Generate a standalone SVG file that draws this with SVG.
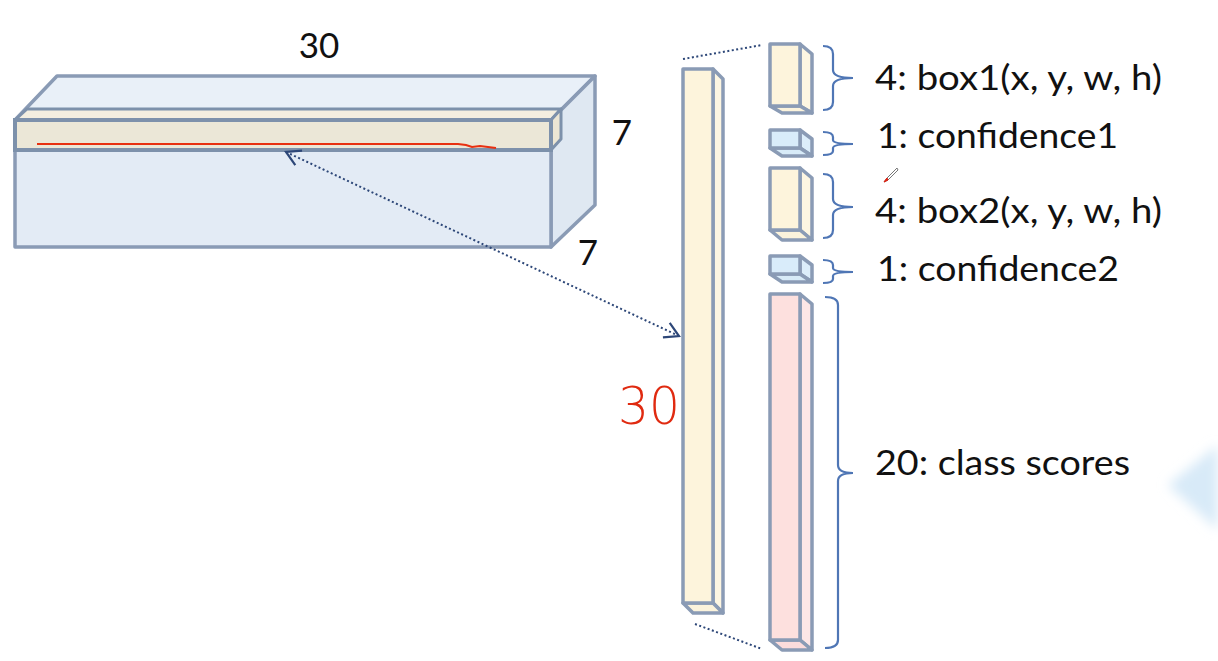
<svg xmlns="http://www.w3.org/2000/svg" width="1218" height="661" viewBox="0 0 1218 661">
<style>
.lbl{font-family:Lato,"Open Sans","Liberation Sans",sans-serif;font-size:35px;fill:#111}
.edge{stroke:#8a9bb5;stroke-width:3.5;stroke-linejoin:round}
.brace{fill:none;stroke:#4f76b5;stroke-width:2.2}
.dot{fill:none;stroke:#2d4778;stroke-width:2;stroke-dasharray:2 2.5}
</style>
<defs>
<marker id="v" viewBox="0 0 20 20" refX="18" refY="10" markerWidth="20" markerHeight="20" markerUnits="userSpaceOnUse" orient="auto-start-reverse">
<path d="M4,2 L18,10 L4,18" fill="none" stroke="#2d4778" stroke-width="2.2"/>
</marker>
<filter id="blur" x="-50%" y="-50%" width="200%" height="200%"><feGaussianBlur stdDeviation="6"/></filter>
</defs>
<rect width="1218" height="661" fill="#ffffff"/>

<g id="cube">
<polygon class="edge" points="15,120 57,76 595,76 551,120" fill="#e9f0f8"/>
<polygon class="edge" points="551,120 595,76 595,205 551,247" fill="#dfe8f2"/>
<rect class="edge" x="15" y="120" width="536" height="127" fill="#e3ebf5"/>
</g>

<g id="slice">
<polygon points="15,120 27,109 561,109 551,120" fill="#f3eee0" stroke="#7d91ab" stroke-width="3" stroke-linejoin="round"/>
<polygon points="551,120 561,109 561,139 551,150" fill="#ece6d4" stroke="#7d91ab" stroke-width="3" stroke-linejoin="round"/>
<rect x="15" y="120" width="536" height="30" fill="#ebe7d7" stroke="#7d91ab" stroke-width="4"/>
<path d="M37,144 L458,144 L466,145 L472,147 L480,146 L496,148" fill="none" stroke="#e83010" stroke-width="2.2"/>
</g>

<g id="dims">
<text x="319" y="58" class="lbl" text-anchor="middle" font-size="33">30</text>
<text x="622" y="145" class="lbl" text-anchor="middle" font-size="33">7</text>
<text x="588" y="265" class="lbl" text-anchor="middle" font-size="33">7</text>
</g>

<g id="column">
<polygon class="edge" points="713,69 723,79 723,613 713,603" fill="#fdf6e2"/>
<polygon class="edge" points="683,603 713,603 723,613 693,613" fill="#fbf3dc"/>
<rect class="edge" x="683" y="69" width="30" height="534" fill="#fdf4dc"/>
<text x="618" y="424" font-family="'DejaVu Sans',sans-serif" font-size="52" font-weight="200" fill="#e02a10" textLength="62" lengthAdjust="spacingAndGlyphs">30</text>
</g>

<g id="box1">
<polygon class="edge" points="800,44 812,54 812,113 800,106" fill="#fdf6e2"/>
<polygon class="edge" points="770,106 800,106 812,113 782,113" fill="#fbf3dc"/>
<rect class="edge" x="770" y="44" width="30" height="62" fill="#fdf4dc"/>
</g>
<g id="conf1">
<polygon class="edge" points="800,130 812,139 812,156 800,148" fill="#dcedfa"/>
<polygon class="edge" points="770,148 800,148 812,156 782,156" fill="#d8ebf8"/>
<rect class="edge" x="770" y="130" width="30" height="18" fill="#d9ecfa"/>
</g>
<g id="box2">
<polygon class="edge" points="800,168 812,178 812,240 800,230" fill="#fdf6e2"/>
<polygon class="edge" points="770,230 800,230 812,240 782,240" fill="#fbf3dc"/>
<rect class="edge" x="770" y="168" width="30" height="62" fill="#fdf4dc"/>
</g>
<g id="conf2">
<polygon class="edge" points="800,256 812,265 812,282 800,274" fill="#dcedfa"/>
<polygon class="edge" points="770,274 800,274 812,282 782,282" fill="#d8ebf8"/>
<rect class="edge" x="770" y="256" width="30" height="18" fill="#d9ecfa"/>
</g>
<g id="classes">
<polygon class="edge" points="800,294 812,304 812,650 800,640" fill="#fde6e6"/>
<polygon class="edge" points="770,640 800,640 812,650 782,650" fill="#fcdcdc"/>
<rect class="edge" x="770" y="294" width="30" height="346" fill="#fde0de"/>
</g>

<g id="connectors">
<line class="dot" x1="683" y1="59" x2="762" y2="45"/>
<line class="dot" x1="695" y1="624" x2="762" y2="649"/>
<line class="dot" x1="679" y1="336" x2="286" y2="152" marker-start="url(#v)" marker-end="url(#v)"/>
<path class="brace" d="M823,46 Q833,46 833,54 L833,70 Q833,78 853,78 Q833,78 833,86 L833,102 Q833,110 823,110"/>
<path class="brace" d="M823,132 Q833,132 833,137 L833,140 Q833,144 853,144 Q833,144 833,148 L833,151 Q833,155 823,155"/>
<path class="brace" d="M823,174 Q833,174 833,182 L833,199 Q833,207 853,207 Q833,207 833,215 L833,230 Q833,238 823,238"/>
<path class="brace" d="M823,260 Q833,260 833,265 L833,268 Q833,272 853,272 Q833,272 833,276 L833,279 Q833,283 823,283"/>
<path class="brace" d="M825,297 Q838,297 838,305 L838,465 Q838,473 853,473 Q838,473 838,481 L838,640 Q838,648 825,648"/>
</g>

<g id="labels">
<text class="lbl" x="875" y="90" textLength="287" lengthAdjust="spacingAndGlyphs">4: box1(x, y, w, h)</text>
<text class="lbl" x="877" y="148" textLength="241" lengthAdjust="spacingAndGlyphs">1: confidence1</text>
<text class="lbl" x="875" y="223" textLength="287" lengthAdjust="spacingAndGlyphs">4: box2(x, y, w, h)</text>
<text class="lbl" x="877" y="281" textLength="242" lengthAdjust="spacingAndGlyphs">1: confidence2</text>
<text class="lbl" x="875" y="475" textLength="255" lengthAdjust="spacingAndGlyphs">20: class scores</text>
</g>

<g id="cursor">
<path d="M897,168 L887,178 L884,182 L888,180 L898,170 Z" fill="#ffffff" stroke="#777" stroke-width="1"/>
<path d="M884,182 L887,178 L888,180 Z" fill="#e02010" stroke="#e02010" stroke-width="1"/>
</g>

<g id="faded-arrow" filter="url(#blur)">
<polygon points="1168,485 1218,445 1218,530" fill="#d8eaf8"/>
</g>
</svg>
